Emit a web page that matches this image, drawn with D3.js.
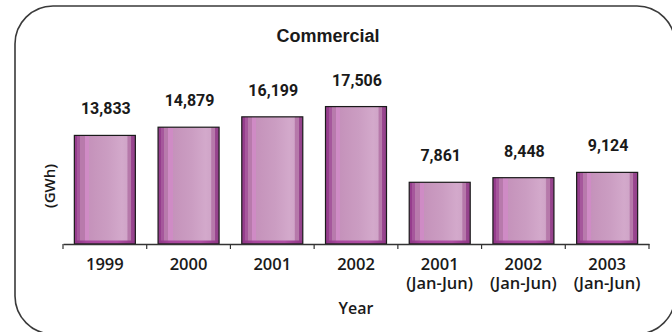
<!DOCTYPE html>
<html>
<head>
<meta charset="utf-8">
<script src="https://cdn.jsdelivr.net/npm/d3@7/dist/d3.min.js"></script>
<style>
  html, body { margin: 0; padding: 0; background: #fff; }
  svg { display: block; }
</style>
</head>
<body>
<script>
// Commercial electricity consumption (GWh)
const categories = ["1999", "2000", "2001", "2002", "2001|(Jan-Jun)", "2002|(Jan-Jun)", "2003|(Jan-Jun)"];
const values = [13833, 14879, 16199, 17506, 7861, 8448, 9124];
const valueLabels = ["13,833", "14,879", "16,199", "17,506", "7,861", "8,448", "9,124"];
const chartTitle = "Commercial";
const xTitle = "Year";
const yTitle = "(GWh)";

const W = 672, H = 332;
const svg = d3.select("body").append("svg").attr("width", W).attr("height", H);

// Rounded frame around the chart
svg.append("rect")
  .attr("x", 15).attr("y", 6)
  .attr("width", 660).attr("height", 328)
  .attr("rx", 38).attr("ry", 38)
  .attr("fill", "#fff")
  .attr("stroke", "#3a3a3a")
  .attr("stroke-width", 1.6);

const plot = { left: 63, right: 649, top: 87, bottom: 244 };

const x = d3.scaleBand().domain(categories).range([plot.left, plot.right]).padding(0);
const y = d3.scaleLinear().domain([0, 20000]).range([plot.bottom, plot.top]);
const barW = 61;

// Cylindrical shading across each bar
const defs = svg.append("defs");
const grad = defs.append("linearGradient").attr("id", "barShade")
  .attr("x1", "0%").attr("x2", "100%").attr("y1", "0%").attr("y2", "0%");
[
  [0.00, "#963d8d"], [0.05, "#963d8d"],
  [0.05, "#a6579c"], [0.10, "#a6579c"],
  [0.10, "#b87aac"], [0.17, "#b87aac"],
  [0.17, "#cf8bc5"], [0.24, "#cf8bc5"],
  [0.24, "#c592bb"], [0.34, "#c796bd"],
  [0.55, "#cb9dc2"], [0.78, "#d3a9cb"],
  [0.86, "#d0a5c8"], [0.88, "#b679aa"],
  [0.93, "#b679aa"], [0.93, "#9a4890"],
  [1.00, "#92408a"]
].forEach(([o, c]) => grad.append("stop").attr("offset", o).attr("stop-color", c));

const gradB = defs.append("linearGradient").attr("id", "baseShade")
  .attr("x1", "0%").attr("x2", "100%");
[[0, "#8e3585"], [0.2, "#a8479d"], [0.7, "#b04fa4"], [1, "#8e3585"]]
  .forEach(([o, c]) => gradB.append("stop").attr("offset", o).attr("stop-color", c));

const bars = svg.append("g").selectAll("g.bar")
  .data(values)
  .join("g").attr("class", "bar");

bars.append("rect")
  .attr("x", (d, i) => x(categories[i]) + (x.bandwidth() - barW) / 2)
  .attr("y", d => y(d))
  .attr("width", barW)
  .attr("height", d => y(0) - y(d))
  .attr("fill", "url(#barShade)");

// darker floor strip at the base of each bar
bars.append("rect")
  .attr("x", (d, i) => x(categories[i]) + (x.bandwidth() - barW) / 2)
  .attr("y", y(0) - 3.5)
  .attr("width", barW)
  .attr("height", 3.5)
  .attr("fill", "url(#baseShade)");

bars.append("rect")
  .attr("x", (d, i) => x(categories[i]) + (x.bandwidth() - barW) / 2)
  .attr("y", d => y(d))
  .attr("width", barW)
  .attr("height", d => y(0) - y(d))
  .attr("fill", "none")
  .attr("stroke", "#1a1a1a")
  .attr("stroke-width", 1.2);

// Value labels
svg.append("g").selectAll("text")
  .data(values)
  .join("text")
  .attr("x", (d, i) => x(categories[i]) + x.bandwidth() / 2 + 1)
  .attr("y", d => y(d) - 21)
  .attr("text-anchor", "middle")
  .attr("font-family", "Roboto, 'Liberation Sans', sans-serif")
  .attr("font-weight", "bold")
  .attr("font-size", 16)
  .attr("fill", "#1a1a1a")
  .text((d, i) => valueLabels[i]);

// X axis with ticks at category boundaries
const xAxis = svg.append("g").attr("transform", `translate(0,${plot.bottom})`)
  .call(d3.axisBottom(x).tickSize(0).tickFormat(() => ""));
xAxis.select(".domain").attr("stroke", "#333").attr("stroke-width", 1.3);
const bounds = categories.map(c => x(c)).concat([plot.right]);
xAxis.selectAll("line.bound").data(bounds).join("line")
  .attr("class", "bound")
  .attr("x1", d => d).attr("x2", d => d)
  .attr("y1", 0).attr("y2", 5)
  .attr("stroke", "#333").attr("stroke-width", 1.2);

const catLabels = svg.append("g").selectAll("text")
  .data(categories)
  .join("text")
  .attr("x", d => x(d) + x.bandwidth() / 2)
  .attr("y", 270)
  .attr("text-anchor", "middle")
  .attr("font-family", "'Open Sans', sans-serif")
  .attr("font-weight", 600)
  .attr("font-size", 16.5)
  .attr("fill", "#1a1a1a");
catLabels.each(function(d) {
  const parts = d.split("|");
  d3.select(this).selectAll("tspan").data(parts).join("tspan")
    .attr("x", x(d) + x.bandwidth() / 2)
    .attr("dy", (p, j) => j === 0 ? 0 : 19)
    .text(p => p);
});

// Axis titles
svg.append("text")
  .attr("x", (plot.left + plot.right) / 2)
  .attr("y", 314)
  .attr("text-anchor", "middle")
  .attr("font-family", "'Open Sans', sans-serif")
  .attr("font-weight", 600)
  .attr("font-size", 16)
  .attr("fill", "#1a1a1a")
  .text(xTitle);

svg.append("text")
  .attr("transform", "translate(55,186) rotate(-90)")
  .attr("text-anchor", "middle")
  .attr("font-family", "'Open Sans', sans-serif")
  .attr("font-weight", 600)
  .attr("font-size", 15)
  .attr("fill", "#1a1a1a")
  .text(yTitle);

// Chart title
svg.append("text")
  .attr("x", 328)
  .attr("y", 42)
  .attr("text-anchor", "middle")
  .attr("font-family", "'Liberation Sans', Arial, sans-serif")
  .attr("font-weight", "bold")
  .attr("font-size", 18)
  .attr("fill", "#1a1a1a")
  .text(chartTitle);
</script>
</body>
</html>
